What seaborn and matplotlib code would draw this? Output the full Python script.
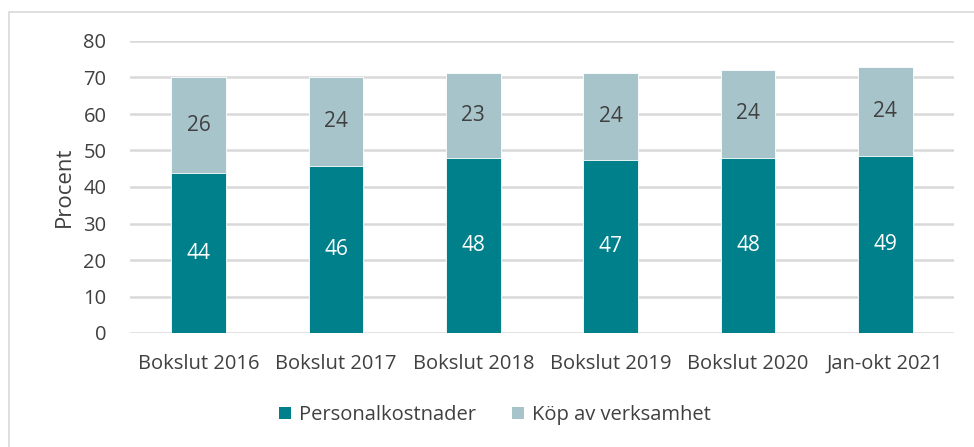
import matplotlib
matplotlib.use("Agg")
import matplotlib.pyplot as plt
from matplotlib.patches import Patch, Rectangle
import seaborn as sns
import pandas as pd
import numpy as np

categories = ["Bokslut 2016", "Bokslut 2017", "Bokslut 2018", "Bokslut 2019", "Bokslut 2020", "Jan-okt 2021"]
personal = [43.8, 45.8, 47.9, 47.4, 48.0, 48.6]
kop = [26.2, 24.2, 23.3, 23.8, 24.1, 24.2]
personal_labels = ["44", "46", "48", "47", "48", "49"]
kop_labels = ["26", "24", "23", "24", "24", "24"]
series_names = ["Personalkostnader", "Köp av verksamhet"]
yticks = [0, 10, 20, 30, 40, 50, 60, 70, 80]

teal = "#00808B"
light = "#A7C4CA"
text_col = "#404040"
grid_col = "#D9D9D9"

sns.set_theme(style="white")
plt.rcParams["font.family"] = ["Open Sans", "DejaVu Sans"]

df = pd.DataFrame({"cat": categories, "personal": personal, "kop": kop})
df["total"] = df["personal"] + df["kop"]

fig = plt.figure(figsize=(9.74, 4.47), dpi=100)
ax = fig.add_axes([130/974, 1-333/447, (954-130)/974, (333-41)/447])

ax.set_axisbelow(True)
for t in yticks:
    ax.axhline(t, color=grid_col, lw=1.8, zorder=0)

sns.barplot(data=df, x="cat", y="total", color=light, width=0.4, ax=ax,
            saturation=1, edgecolor="white", linewidth=0.6, zorder=2)
sns.barplot(data=df, x="cat", y="personal", color=teal, width=0.4, ax=ax,
            saturation=1, edgecolor="white", linewidth=0.6, zorder=3)

for i in range(len(categories)):
    ax.text(i, personal[i] / 2, personal_labels[i], ha="center", va="center",
            color="white", fontsize=15, zorder=4)
    ax.text(i, personal[i] + kop[i] / 2, kop_labels[i], ha="center", va="center",
            color=text_col, fontsize=15, zorder=4)

ax.set_ylim(0, 80)
ax.set_xlim(-0.5, len(categories) - 0.5)
ax.set_yticks(yticks)
ax.set_yticklabels([str(t) for t in yticks], fontsize=14.5, color=text_col)
ax.set_xticks(range(len(categories)))
ax.set_xticklabels(categories, fontsize=14.5, color=text_col)
ax.tick_params(axis="y", length=0, pad=17)
ax.tick_params(axis="x", length=0, pad=15)
ax.set_xlabel("")
ax.set_ylabel("Procent", fontsize=16, color=text_col, labelpad=6)
for s in ax.spines.values():
    s.set_visible(False)

handles = [Patch(facecolor=teal, edgecolor="none"), Patch(facecolor=light, edgecolor="none")]
fig.legend(handles, series_names, loc="center", bbox_to_anchor=(495/974, 1-415/447),
           ncol=2, frameon=False, fontsize=14.5, handlelength=0.6, handleheight=0.6,
           handletextpad=0.4, columnspacing=1.8, labelcolor=text_col)

fig.patches.append(Rectangle((9/974, -0.1), 1.2, 1.1 - 12/447, transform=fig.transFigure,
                             fill=False, edgecolor=grid_col, lw=1.2, zorder=-1))

fig.savefig("out.png", dpi=100)
